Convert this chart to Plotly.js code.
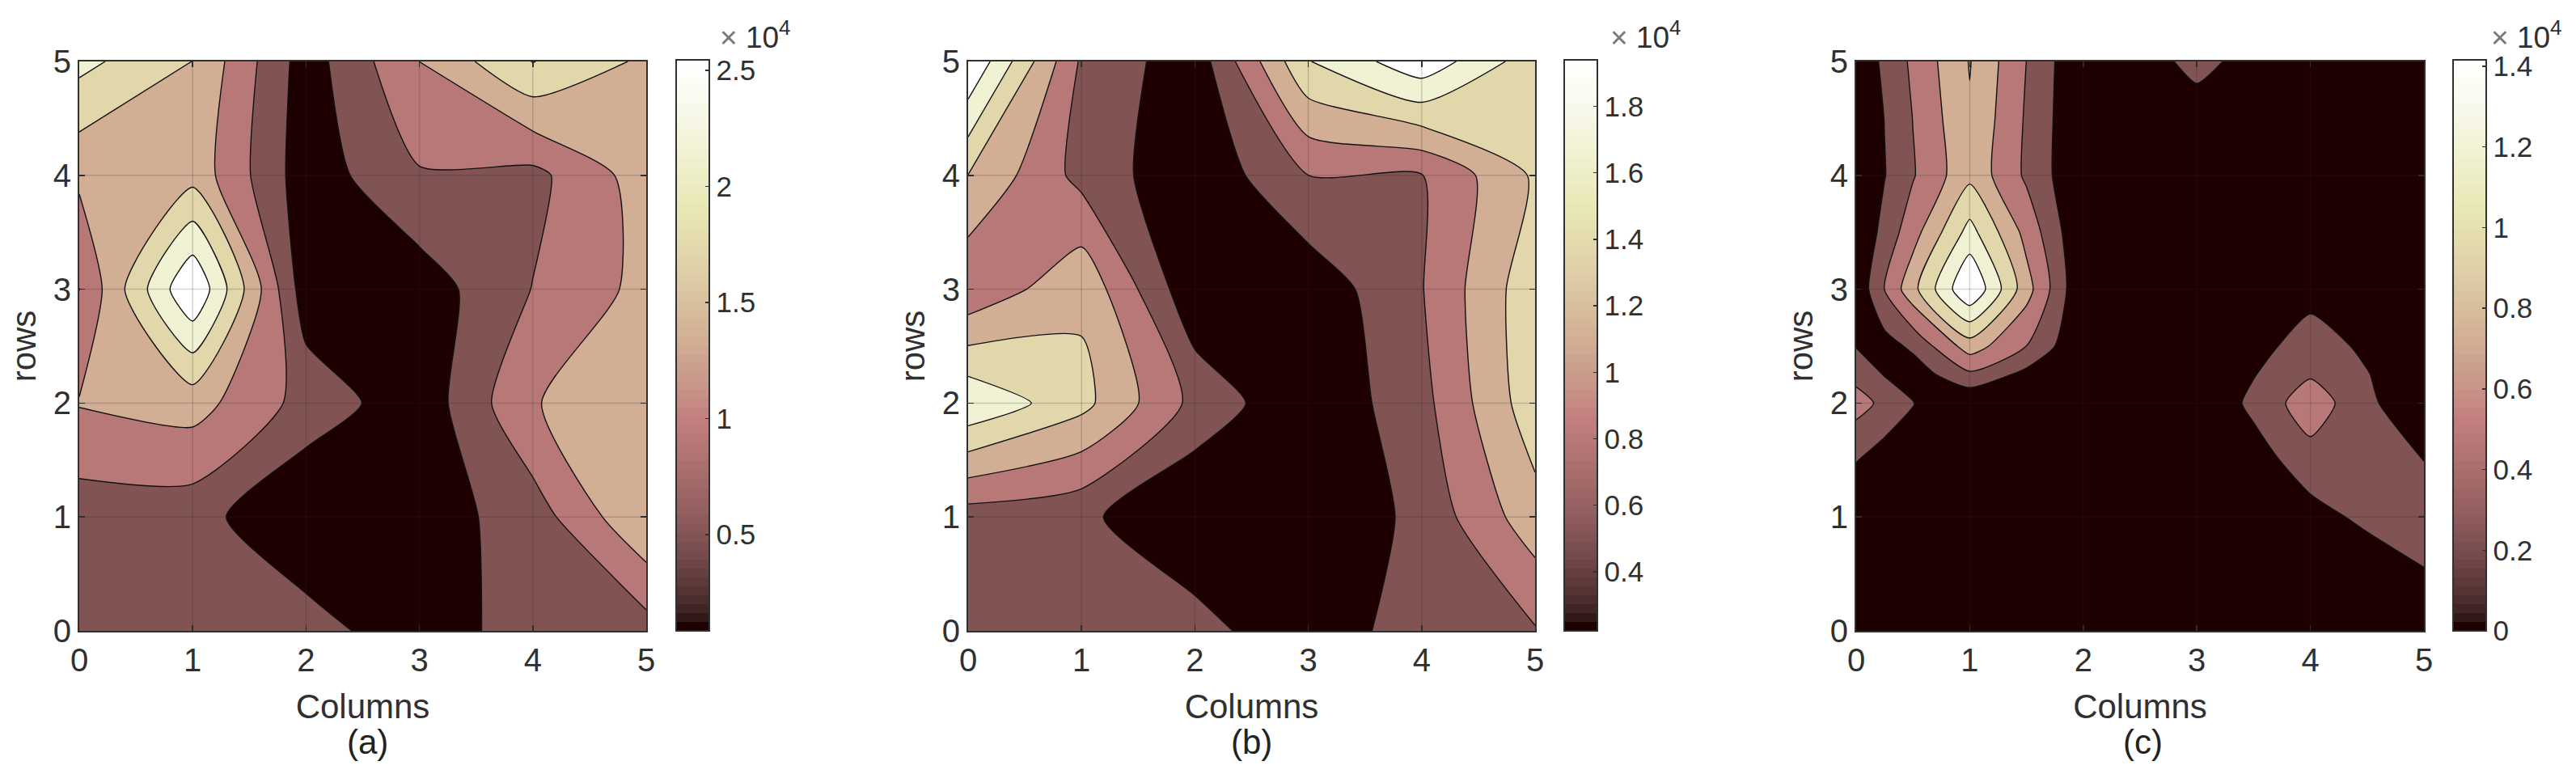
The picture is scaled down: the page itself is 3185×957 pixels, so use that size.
<!DOCTYPE html>
<html>
<head>
<meta charset="utf-8">
<script src="https://cdn.plot.ly/plotly-3.0.1.min.js"></script>
<style>html,body{margin:0;padding:0;background:#fff}</style>
</head>
<body>
<div id="chart" style="width:3185px;height:957px"></div>
<script>
// grid positions, panel c needs extra read positions to keep its blobs apart
var columns = [0, 1, 2, 3, 4, 5];
var rows = [0, 1, 2, 3, 4, 5];
var columnsC = [0, 0.25, 0.5, 1, 1.5, 2, 3, 3.5, 4, 4.5, 5];
var rowsC = [0, 0.5, 1, 1.5, 2, 2.25, 2.5, 3, 3.5, 4, 4.5, 5];
var tickNums = [0, 1, 2, 3, 4, 5];

var zA = [
    [6795, 7000, 6959, 1957, 7410, 7246],
    [6836, 6672, 850, 2777, 6959, 17045],
    [13396, 14872, 7574, 2244, 12945, 15610],
    [9000, 29550, 2490, 2736, 9173, 14380],
    [13970, 15815, 2572, 8681, 7861, 15200],
    [22580, 17200, 2900, 13200, 21473, 16430]
];
var zB = [
    [6457, 6515, 6371, 2506, 7087, 7717],
    [6515, 5770, 2220, 2277, 5942, 12527],
    [19026, 14560, 7116, 2592, 7030, 15447],
    [8433, 13042, 2793, 3165, 7803, 15676],
    [13614, 7030, 2793, 7930, 7831, 14101],
    [22261, 7517, 3279, 16392, 21402, 14817]
];
var zC = [
    [0, 0, 0, 0, 0, 0, 0, 0, 0, 0, 0],
    [0, 0, 0, 0, 0, 0, 0, 0, 0, 708, 2077],
    [0, 0, 0, 0, 0, 0, 0, 0, 1416, 2950, 4484],
    [2478, 1180, 0, 0, 0, 0, 0, 1180, 3776, 3658, 2313],
    [5664, 4130, 2478, 118, 0, 0, 0, 2974, 6065, 2974, 0],
    [4012, 2242, 1062, 4248, 1652, 0, 0, 2242, 4484, 2500, 0],
    [2242, 1416, 2832, 8260, 4700, 0, 0, 1298, 3776, 1770, 0],
    [472, 4750, 8732, 16520, 8024, 0, 0, 0, 1274, 236, 0],
    [0, 3210, 6136, 12673, 6301, 0, 0, 0, 0, 0, 0],
    [71, 2266, 4531, 8850, 4319, 0, 0, 0, 0, 0, 0],
    [236, 2407, 4767, 9204, 4437, 0, 1416, 0, 0, 0, 0],
    [590, 2832, 5192, 9558, 4700, 0, 2950, 1652, 378, 0, 0]
];

// colour limits and contour levels
var climA = [850, 25450], levelsA = [4950, 25450], stepA = 4100;
var climB = [2220, 19400], levelsB = [5083, 19398], stepB = 2863;
var climC = [0, 14160], levelsC = [2360, 14160], stepC = 2360;

// colorbar ticks
var cbValsA = [5000, 10000, 15000, 20000, 25000];
var cbTextA = ['0.5', '1', '1.5', '2', '2.5'];
var cbValsB = [4000, 6000, 8000, 10000, 12000, 14000, 16000, 18000];
var cbTextB = ['0.4', '0.6', '0.8', '1', '1.2', '1.4', '1.6', '1.8'];
var cbValsC = [0, 2000, 4000, 6000, 8000, 10000, 12000, 14000];
var cbTextC = ['0', '0.2', '0.4', '0.6', '0.8', '1', '1.2', '1.4'];

var W = 3185, H = 957;
var inkColor = '#303030';
var fontName = '"Liberation Sans", Arial, sans-serif';

// matlab's pink colormap, 64 flat steps
function pinkScale() {
    var out = [];
    var n = 64;
    for (var i = 0; i < n; i++) {
        var t = i / (n - 1);
        var hr = Math.min(1, (i + 1) / 24);
        var hg = Math.max(0, Math.min(1, (i - 23) / 24));
        var hb = Math.max(0, (i - 47) / 16);
        var r = Math.round(255 * Math.sqrt((2 * t + hr) / 3));
        var g = Math.round(255 * Math.sqrt((2 * t + hg) / 3));
        var b = Math.round(255 * Math.sqrt((2 * t + hb) / 3));
        var c = 'rgb(' + r + ',' + g + ',' + b + ')';
        out.push([i / n, c]);
        out.push([(i + 1) / n, c]);
    }
    return out;
}
var pink = pinkScale();

var panels = [
    { x: columns, y: rows, z: zA, clim: climA, lev: levelsA, step: stepA, vals: cbValsA, text: cbTextA, left: 98, right: 799, cbLeft: 836, exp: 888, tag: '(a)', tagX: 454 },
    { x: columns, y: rows, z: zB, clim: climB, lev: levelsB, step: stepB, vals: cbValsB, text: cbTextB, left: 1197, right: 1898, cbLeft: 1934, exp: 1989, tag: '(b)', tagX: 1547 },
    { x: columnsC, y: rowsC, z: zC, clim: climC, lev: levelsC, step: stepC, vals: cbValsC, text: cbTextC, left: 2295, right: 2997, cbLeft: 3033, exp: 3078, tag: '(c)', tagX: 2649 }
];

var axTop = 76, axBottom = 780;
var data = [];
var layout = {
    width: W,
    height: H,
    margin: { l: 0, r: 0, t: 0, b: 0 },
    paper_bgcolor: '#fff',
    plot_bgcolor: '#fff',
    showlegend: false,
    shapes: [],
    annotations: []
};

panels.forEach(function (p, i) {
    var n = i === 0 ? '' : String(i + 1);
    var xa = 'x' + n, ya = 'y' + n;

    // hidden below the contour fill, only here to carry the colorbar
    data.push({
        type: 'heatmap',
        x: p.x,
        y: p.y,
        z: p.z,
        xaxis: xa,
        yaxis: ya,
        zmin: p.clim[0],
        zmax: p.clim[1],
        colorscale: pink,
        hoverinfo: 'skip',
        colorbar: {
            x: p.cbLeft / W,
            xanchor: 'left',
            xpad: 0,
            y: 1 - 74 / H,
            yanchor: 'top',
            ypad: 0,
            thicknessmode: 'pixels',
            thickness: 41,
            lenmode: 'pixels',
            len: 706,
            outlinecolor: inkColor,
            outlinewidth: 2,
            ticks: 'inside',
            ticklen: 6,
            tickwidth: 1.5,
            tickcolor: inkColor,
            tickmode: 'array',
            tickvals: p.vals,
            ticktext: p.text,
            tickfont: { family: fontName, size: 35, color: inkColor }
        }
    });

    data.push({
        type: 'contour',
        x: p.x,
        y: p.y,
        z: p.z,
        xaxis: xa,
        yaxis: ya,
        autocontour: false,
        contours: { coloring: 'fill', showlines: true, start: p.lev[0], end: p.lev[1], size: p.step },
        colorscale: pink,
        showscale: false,
        line: { color: '#111', width: 1.4, smoothing: 0.6 }
    });

    var axisCommon = {
        range: [0, 5],
        tickmode: 'array',
        tickvals: tickNums,
        ticktext: tickNums.map(String),
        ticks: 'inside',
        ticklen: 7,
        tickwidth: 1.5,
        tickcolor: inkColor,
        showline: true,
        linecolor: inkColor,
        linewidth: 2,
        mirror: 'ticks',
        showgrid: false,
        zeroline: false,
        tickfont: { family: fontName, size: 40, color: inkColor }
    };

    layout['xaxis' + n] = Object.assign({}, axisCommon, {
        domain: [p.left / W, p.right / W],
        anchor: ya,
        title: { text: 'Columns', font: { family: fontName, size: 42, color: inkColor }, standoff: 22 }
    });
    layout['yaxis' + n] = Object.assign({}, axisCommon, {
        domain: [1 - axBottom / H, 1 - axTop / H],
        anchor: xa,
        title: { text: 'rows', font: { family: fontName, size: 42, color: inkColor }, standoff: 8 }
    });

    // grid sits on top of the fill in the original
    tickNums.slice(1, 5).forEach(function (v) {
        layout.shapes.push({ type: 'line', xref: xa, yref: ya, x0: v, x1: v, y0: 0, y1: 5, layer: 'above', line: { color: 'rgba(40,40,40,0.2)', width: 1.5 } });
        layout.shapes.push({ type: 'line', xref: xa, yref: ya, x0: 0, x1: 5, y0: v, y1: v, layer: 'above', line: { color: 'rgba(40,40,40,0.2)', width: 1.5 } });
    });

    layout.annotations.push({
        xref: 'paper', yref: 'paper', x: p.tagX / W, y: 1 - 917 / H, xanchor: 'center', yanchor: 'middle',
        text: p.tag, showarrow: false, font: { family: fontName, size: 42, color: '#222' }
    });
    layout.annotations.push({
        xref: 'paper', yref: 'paper', x: p.exp / W, y: 1 - 44 / H, xanchor: 'left', yanchor: 'middle',
        text: '<span style="color:#777">×</span> 10<sup>4</sup>', showarrow: false, font: { family: fontName, size: 37, color: inkColor }
    });
});

Plotly.newPlot('chart', data, layout, { staticPlot: true });
</script>
</body>
</html>
